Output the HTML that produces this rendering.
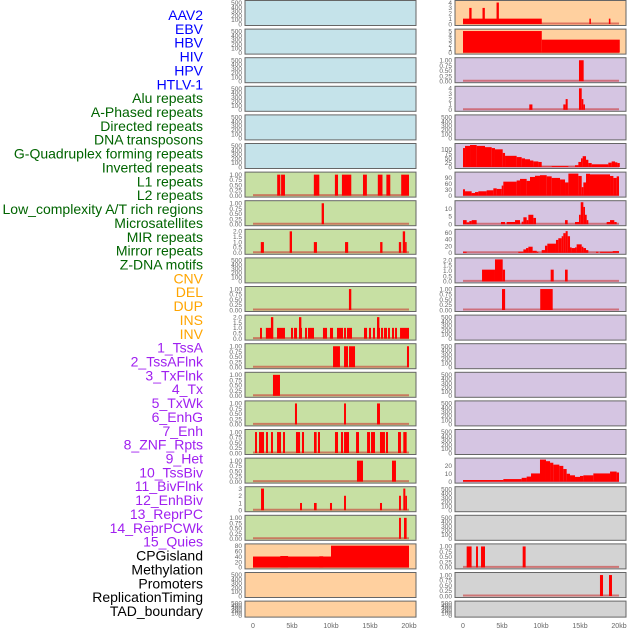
<!DOCTYPE html>
<html><head><meta charset="utf-8"><style>
html,body{margin:0;padding:0;background:#fff;}
svg{display:block;font-family:"Liberation Sans",sans-serif;}
</style></head><body>
<svg id="chart" width="630" height="630" viewBox="0 0 630 630" xmlns="http://www.w3.org/2000/svg"></svg>
<script>
const labelNames = ["AAV2","EBV","HBV","HIV","HPV","HTLV-1","Alu repeats","A-Phased repeats","Directed repeats","DNA transposons","G-Quadruplex forming repeats","Inverted repeats","L1 repeats","L2 repeats","Low_complexity A/T rich regions","Microsatellites","MIR repeats","Mirror repeats","Z-DNA motifs","CNV","DEL","DUP","INS","INV","1_TssA","2_TssAFlnk","3_TxFlnk","4_Tx","5_TxWk","6_EnhG","7_Enh","8_ZNF_Rpts","9_Het","10_TssBiv","11_BivFlnk","12_EnhBiv","13_ReprPC","14_ReprPCWk","15_Quies","CPGisland","Methylation","Promoters","ReplicationTiming","TAD_boundary"];
const labelColors = ["#0000ff","#0000ff","#0000ff","#0000ff","#0000ff","#0000ff","#006400","#006400","#006400","#006400","#006400","#006400","#006400","#006400","#006400","#006400","#006400","#006400","#006400","#ffa500","#ffa500","#ffa500","#ffa500","#ffa500","#a020f0","#a020f0","#a020f0","#a020f0","#a020f0","#a020f0","#a020f0","#a020f0","#a020f0","#a020f0","#a020f0","#a020f0","#a020f0","#a020f0","#a020f0","#000","#000","#000","#000","#000"];
const xTickKb = [0,5,10,15,20];
const xTickLabels = ["0","5kb","10kb","15kb","20kb"];

// tick sets
const ticksEmpty = [0,100,200,300,400,500];
const ticksBin = [0,0.25,0.5,0.75,1];
const ticks2 = [0,0.5,1,1.5,2];
const ticks3 = [0,1,2,3];
const ticks4 = [0,1,2,3,4];
const ticks5 = [0,1,2,3,4,5];
const ticksGQ = [0,25,50,75,100];
const ticksL1 = [0,30,60,90];
const ticksMicro = [0,5,10];
const ticksMirror = [0,20,40,60];
const ticksHet = [0,10,20];
const ticksCpg = [0,20,40,60,80];

// segments [startKb, endKb, value]
const segL6 = [[3.1,3.5,1],[3.6,4.1,1],[7.8,8.5,1],[10.5,10.9,1],[11.4,12.6,1],[14.1,14.6,1],[16.0,16.6,1],[17.1,17.6,1],[19.0,20.0,1]];
const segL7 = [[8.8,9.1,1]];
const segL8 = [[1.0,1.4,1],[4.7,5.0,2],[7.8,8.2,1],[11.8,12.2,1],[16.3,16.6,1],[18.7,19.0,1],[19.2,19.5,2],[19.5,19.7,1]];
const segL10 = [[12.3,12.6,1]];
const segL11 = [[0.9,1.15,1],[1.65,2.56,1],[2.3,2.6,2],[3.08,4.1,1],[4.87,5.13,1],[5.26,5.64,1],[5.9,6.28,1],[5.9,6.2,2],[6.67,6.92,1],[7.05,7.82,1],[8.97,9.49,1],[9.87,10.26,1],[10.77,11.54,1],[11.67,11.92,1],[12.05,12.69,1],[14.23,14.62,1],[14.87,15.13,1],[15.38,15.64,1],[15.9,16.28,1],[15.9,16.2,2],[16.41,16.67,1],[16.79,17.18,1],[17.31,17.56,1],[17.82,18.08,1],[18.21,18.46,1],[18.85,20.0,1]];
const segL12 = [[10.26,11.15,1],[11.67,12.18,1],[12.31,13.08,1],[19.74,20.0,1]];
const segL13 = [[2.56,3.46,1]];
const segL14 = [[5.38,5.64,1],[11.67,11.92,1],[15.9,16.28,1]];
const segL15 = [[0.26,0.51,1],[0.77,1.41,1],[1.67,1.92,1],[2.31,2.56,1],[3.08,3.59,1],[3.85,4.1,1],[5.51,6.03,1],[6.28,6.54,1],[7.82,8.16,1],[8.33,8.59,1],[10.51,10.9,1],[11.28,11.54,1],[11.67,12.31,1],[13.21,13.59,1],[14.62,15.0,1],[15.13,15.64,1],[16.28,16.92,1],[17.05,17.31,1],[18.59,18.97,1],[19.27,19.7,1]];
const segL16 = [[13.33,14.1,1],[17.82,18.33,1]];
const segL17 = [[1.03,1.41,3],[6.03,6.28,1],[7.82,8.16,1],[9.87,10.13,1],[11.67,11.92,2],[16.28,16.54,1],[18.72,18.97,2],[19.27,19.53,3],[19.53,19.74,2]];
const segL18 = [[18.72,18.97,1],[19.36,19.7,1]];
const segL19 = [[0,10,40],[3.5,4.5,42],[8.5,9,41],[10,20,80]];

const segR0 = [[0,10.1,1],[0.8,1.1,3],[2.5,2.8,3],[4.3,4.6,4],[16.2,16.4,1],[18.7,18.9,1]];
const segR1 = [[0,10.1,5],[10.1,20.1,3]];
const segR2 = [[14.87,15.47,1]];
const segR3 = [[8.5,8.9,1],[12.86,13.16,1],[13.16,13.42,2],[14.87,15.22,4],[15.22,15.43,2],[15.43,15.64,1]];
const segR5 = [[0,0.26,105],[0.26,0.9,117],[0.9,1.75,122],[1.75,2.82,117],[2.82,3.68,110],[3.68,4.1,105],[4.1,5.09,98],[5.09,5.39,78],[5.39,6.88,62],[6.88,7.52,55],[7.52,7.95,48],[7.95,8.59,43],[8.59,9.02,36],[9.02,9.66,31],[9.66,10.09,28],[10.09,11.37,2],[11.37,13.51,5],[13.51,14.36,1],[14.36,14.79,10],[14.79,15.13,28],[15.13,15.34,48],[15.34,15.77,60],[15.77,16.07,40],[16.07,16.5,22],[16.5,18.63,15],[18.63,19.06,24],[19.06,19.49,31],[19.49,19.79,26],[19.79,20.1,22]];
const segR6 = [[0,0.26,32],[0.26,1.11,22],[1.11,1.54,13],[1.54,1.97,18],[1.97,3.03,22],[3.03,3.89,27],[3.89,4.32,37],[4.32,4.96,34],[4.96,5.17,51],[5.17,6.88,71],[6.88,7.31,77],[7.31,8.16,85],[8.16,8.59,75],[8.59,9.23,95],[9.23,9.87,101],[9.87,10.73,104],[10.73,11.37,98],[11.37,12.44,90],[12.44,13.08,82],[13.08,13.51,67],[13.51,14.79,112],[14.79,15.22,100],[15.22,15.43,43],[15.43,15.77,67],[15.77,16.28,111],[16.28,18.85,108],[18.85,19.28,100],[19.28,19.7,90],[19.7,20.0,98]];
const segR7 = [[0,0.47,2.6],[0.47,0.81,1.2],[0.81,1.11,2],[1.11,1.75,2.6],[4.87,5.39,1.4],[5.6,6.67,1.4],[6.67,7.31,2.6],[7.52,7.74,1.6],[7.74,8.16,4.4],[8.16,8.38,2.6],[8.38,9.02,6],[9.02,9.36,4],[13.08,13.42,2.6],[14.36,14.87,1.4],[14.87,15.09,6],[15.09,15.43,14],[15.43,15.64,11],[15.64,15.86,6],[15.86,16.07,2.6],[18.42,18.85,1.4],[18.85,19.4,2.6],[19.4,19.7,1.4]];
const segR8 = [[0,0.47,3],[7.09,7.74,3],[7.74,8.08,10],[8.08,8.38,14],[8.38,8.93,18],[8.93,9.45,6],[9.45,9.66,3],[10.09,10.51,8],[10.51,10.81,21],[10.81,11.92,27],[11.92,12.22,38],[12.22,12.65,43],[12.65,12.86,49],[12.86,13.16,58],[13.16,13.42,64],[13.42,13.72,49],[13.72,13.93,16],[13.93,14.36,14],[14.36,14.57,16],[14.57,15.22,25],[15.22,15.43,18],[15.43,15.77,14],[15.77,16.07,8],[17.05,17.35,3],[17.57,19.19,3],[19.19,20.0,5]];
const segR9 = [[2.44,4.1,1.1],[4.1,5.09,2.06],[5.09,5.39,1.1],[11.24,11.63,1.1],[13.08,13.42,1.1]];
const segR10 = [[5.0,5.4,1],[9.9,11.5,1]];
const segR16 = [[0,5.17,2],[5.17,7.52,3.2],[7.52,8.16,4.8],[8.16,8.72,6.4],[8.72,9.87,10.4],[9.87,10.64,28],[10.64,11.16,26],[11.16,11.58,24],[11.58,12.35,21.6],[12.35,12.86,20],[12.86,13.29,16],[13.29,13.72,10],[13.72,14.36,8],[14.36,15.0,6],[15.0,15.43,7.2],[15.43,16.71,8],[16.71,18.85,10.4],[18.85,19.7,12.8],[19.7,20.0,11.6]];
const segR19 = [[0.47,1.1,1],[1.67,1.92,1],[2.31,2.82,1],[7.65,8.03,1]];
const segR20 = [[17.56,17.95,1],[18.72,19.1,1]];

const BLUE="#c5e3ea", GREEN="#c7e0a3", PEACH="#ffd09f", PURP="#d5c5e2", GRAY="#d3d3d3";
// panel specs: [col,row,bg,ticks,ymax,segs,decimals]
const panels = [
 [0,0,BLUE,ticksEmpty,520,null,0],[0,1,BLUE,ticksEmpty,520,null,0],[0,2,BLUE,ticksEmpty,520,null,0],
 [0,3,BLUE,ticksEmpty,520,null,0],[0,4,BLUE,ticksEmpty,520,null,0],[0,5,BLUE,ticksEmpty,520,null,0],
 [0,6,GREEN,ticksBin,1.05,segL6,2],[0,7,GREEN,ticksBin,1.05,segL7,2],[0,8,GREEN,ticks2,2.05,segL8,1],
 [0,9,GREEN,ticksEmpty,520,null,0],[0,10,GREEN,ticksBin,1.05,segL10,2],[0,11,GREEN,ticks2,2.05,segL11,1],
 [0,12,GREEN,ticksBin,1.05,segL12,2],[0,13,GREEN,ticksBin,1.05,segL13,2],[0,14,GREEN,ticksBin,1.05,segL14,2],
 [0,15,GREEN,ticksBin,1.05,segL15,2],[0,16,GREEN,ticksBin,1.05,segL16,2],[0,17,GREEN,ticks3,3.05,segL17,0],
 [0,18,GREEN,ticksBin,1.05,segL18,2],[0,19,PEACH,ticksCpg,81,segL19,0],[0,20,PEACH,ticksEmpty,520,null,0],
 [0,21,PEACH,ticksEmpty,520,null,0],
 [1,0,PEACH,ticks4,4.1,segR0,0],[1,1,PEACH,ticks5,5.1,segR1,0],[1,2,PURP,ticksBin,1.05,segR2,2],
 [1,3,PURP,ticks4,4.1,segR3,0],[1,4,PURP,ticksEmpty,520,null,0],[1,5,PURP,ticksGQ,122,segR5,0],
 [1,6,PURP,ticksL1,112,segR6,0],[1,7,PURP,ticksMicro,14,segR7,0],[1,8,PURP,ticksMirror,65,segR8,0],
 [1,9,PURP,ticks2,2.06,segR9,1],[1,10,PURP,ticksBin,1.05,segR10,2],[1,11,PURP,ticksEmpty,520,null,0],
 [1,12,PURP,ticksEmpty,520,null,0],[1,13,PURP,ticksEmpty,520,null,0],[1,14,PURP,ticksEmpty,520,null,0],
 [1,15,PURP,ticksEmpty,520,null,0],[1,16,PURP,ticksHet,28,segR16,0],[1,17,GRAY,ticksEmpty,520,null,0],
 [1,18,GRAY,ticksEmpty,520,null,0],[1,19,GRAY,ticksBin,1.05,segR19,2],[1,20,GRAY,ticksBin,1.05,segR20,2],
 [1,21,GRAY,ticksEmpty,520,null,0]
];

const NS="http://www.w3.org/2000/svg";
const svg=document.getElementById('chart');
function mk(tag,attrs,parent){const e=document.createElementNS(NS,tag);for(const k in attrs)e.setAttribute(k,attrs[k]);(parent||svg).appendChild(e);return e;}
const colX=[245,455], PW=171, PITCH=28.6;
function xScale(col,kb){return colX[col]+8+kb*7.8;}

labelNames.forEach((t,i)=>{
  const e=mk('text',{x:203,y:15+i*13.86+5,'text-anchor':'end','font-size':14,fill:labelColors[i]});
  
  
  e.textContent=t;
});

panels.forEach(p=>{
  const [col,row,bg,ticks,ymax,segs,dec]=p;
  const top=row*PITCH+0.5, h=(row===21?16:25);
  const g=mk('g',{});
  
  
  const r=mk('rect',{x:colX[col],y:top,width:PW,height:h,fill:bg,stroke:'#666','stroke-width':1},g);
  
  
  const yS=v=>top+h-1.5-v/ymax*(h-3);
  ticks.forEach(t=>{
    const tx=mk('text',{x:colX[col]-3,y:yS(t)+2.3,'text-anchor':'end','font-size':6.5,fill:'#666'},g);
    
    
    tx.textContent=t.toFixed(dec);
  });
  if(segs){
    const bl=mk('line',{x1:xScale(col,0),x2:xScale(col,20),y1:top+h-2,y2:top+h-2,stroke:'rgba(200,40,40,0.55)','stroke-width':2},g);
    
    
    segs.forEach(s=>{
      const x1=xScale(col,s[0]), x2=xScale(col,s[1]);
      const y=yS(s[2]);
      const b=mk('rect',{x:x1,y:Math.max(y,top+0.5),width:Math.max(x2-x1,1),height:top+h-1.5-Math.max(y,top+0.5),fill:'#ff0000'},g);
      
      
    });
  }
});

[0,1].forEach(col=>{
  xTickKb.forEach((kb,i)=>{
    const t=mk('text',{x:xScale(col,kb),y:628,'text-anchor':'middle','font-size':7,fill:'#666'});
    
    
    t.textContent=xTickLabels[i];
  });
});
</script>
</body></html>
